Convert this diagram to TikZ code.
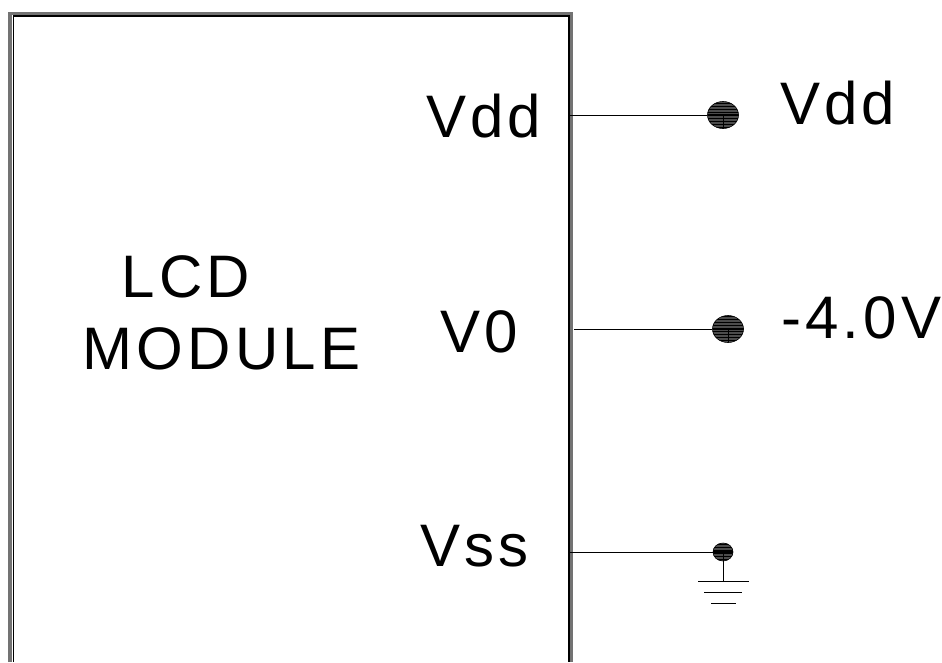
\documentclass[tikz,border=0pt]{standalone}
\usepackage{fontspec}
\setmainfont[LetterSpace=7,Kerning=Off]{Liberation Sans}
\usetikzlibrary{shapes.geometric,positioning,patterns}
\tikzset
{
    pinlabel/.style = {anchor=base west, inner sep=0pt, font=\fontsize{60}{60}\selectfont},
    dot/.style      = {ellipse, draw=black, line width=0.6pt, inner sep=0pt, preaction={fill=black!70}, pattern=horizontal lines, pattern color=black,
                       path picture={\draw[line width=1.6pt] (path picture bounding box.west) -- (path picture bounding box.east);
                                     \draw[line width=0.6pt] (path picture bounding box.center) -- (path picture bounding box.south);}},
    wire/.style     = {line width=1pt, black},
    outerframe/.style = {line width=1.5pt, black!55},
    innerframe/.style = {line width=1.1pt, black}
}
\begin{document}
\begin{tikzpicture}[x=1pt, y=-1pt]

	 \useasboundingbox (0, 0) rectangle (942, 662);

	 \newcommand\FRAMEBOTTOM{662}

	 % module outline, open at the bottom of the page
	 \draw[outerframe] (9, \FRAMEBOTTOM) -- (9, 12.7) -- (572.7, 12.7) -- (572.7, \FRAMEBOTTOM);
	 \draw[outerframe] (11, \FRAMEBOTTOM) -- (11, 14) -- (570.8, 14) -- (570.8, \FRAMEBOTTOM);
	 \draw[innerframe] (13.5, \FRAMEBOTTOM) -- (13.5, 16) -- (569, 16) -- (569, \FRAMEBOTTOM);

	 \coordinate (pa) at (569, 115);
	 \coordinate (pb) at (574, 329);
	 \coordinate (pc) at (569, 552);

	 \node (lcd)    [pinlabel] at (121.5, 297) {LCD};
	 \node (module) [pinlabel] at (82.5, 369)  {MODULE};
	 \node (vdd)    [pinlabel] at (426, 137)   {Vdd};
	 \node (vo)     [pinlabel] at (440, 352)   {V0};
	 \node (vss)    [pinlabel] at (420, 566)   {Vss};
	 \node (vddout) [pinlabel] at (780, 124)   {Vdd};
	 \node (vee)    [pinlabel] at (781, 338)   {-4.0V};

	 \node (da) [dot, minimum width=31pt, minimum height=27pt] at (723, 115) {};
	 \node (db) [dot, minimum width=31pt, minimum height=27pt] at (728, 329) {};
	 \node (dc) [dot, minimum width=20pt, minimum height=18pt] at (723, 552) {};

	 \coordinate (ga) at (723, 581);
	 \coordinate (gal) at (698, 581);
	 \coordinate (gar) at (749, 581);
	 \coordinate (gbl) at (704, 592);
	 \coordinate (gbr) at (742, 592);
	 \coordinate (gcl) at (711, 603);
	 \coordinate (gcr) at (736, 603);

	 \draw[wire] (pa) -- (da);
	 \draw[wire] (pb) -- (db);
	 \draw[wire] (pc) -- (dc);
	 \draw[wire] (dc) -- (ga);
	 \draw[wire] (gal) -- (gar);
	 \draw[wire] (gbl) -- (gbr);
	 \draw[wire] (gcl) -- (gcr);
\end{tikzpicture}
\end{document}
